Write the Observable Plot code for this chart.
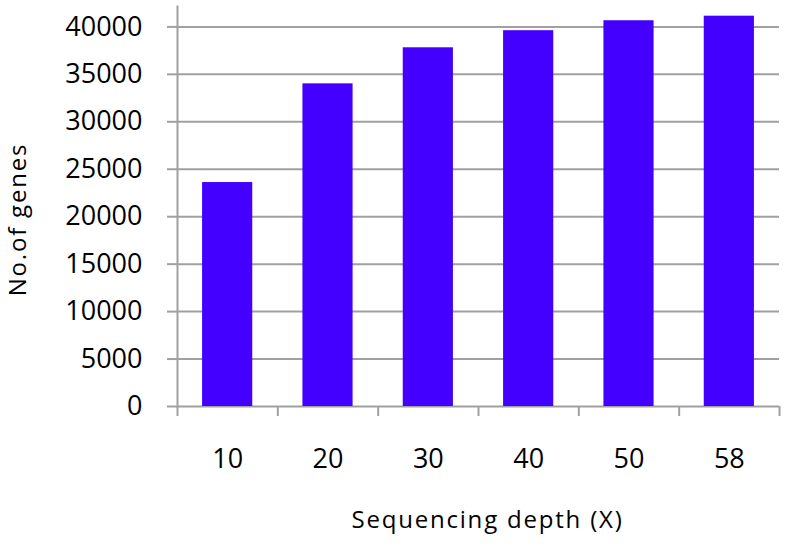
<!DOCTYPE html>
<html>
<head>
<meta charset="utf-8">
<script src="https://cdn.jsdelivr.net/npm/d3@7"></script>
<script src="https://cdn.jsdelivr.net/npm/@observablehq/plot@0.6"></script>
<style>
  html, body { margin: 0; padding: 0; background: #fff; }
  #chart svg { display: block; }
</style>
</head>
<body>
<div id="chart"></div>
<script>
const depths = ["10", "20", "30", "40", "50", "58"];
const genes = [23600, 34000, 37800, 39600, 40650, 41130];
const yTicks = [0, 5000, 10000, 15000, 20000, 25000, 30000, 35000, 40000];

const data = depths.map((d, i) => ({depth: d, idx: i, genes: genes[i]}));
const boundaries = d3.range(depths.length + 1);
const centers = depths.map((d, i) => i + 0.5);

const grid = "#a0a0a0";
const font = "'Open Sans', sans-serif";

const chart = Plot.plot({
  width: 787,
  height: 551,
  marginLeft: 177,
  marginRight: 8,
  marginTop: 6,
  marginBottom: 145,
  style: {fontFamily: font, fontSize: "26px", color: "#000", background: "#fff"},
  x: {type: "linear", domain: [0, depths.length]},
  y: {domain: [0, 42150]},
  marks: [
    Plot.ruleY(yTicks, {stroke: grid, strokeWidth: 2}),
    Plot.rectY(data, {x1: d => d.idx + 0.25, x2: d => d.idx + 0.75, y: "genes", fill: "#4300ff"}),
    Plot.frame({anchor: "left", stroke: grid, strokeWidth: 2}),
    Plot.axisY({ticks: yTicks, tickSize: 10, tickPadding: 25, stroke: grid, strokeWidth: 2,
      tickFormat: d => String(d), fontSize: 27, label: null}),
    Plot.axisX({ticks: boundaries, tickSize: 10, stroke: grid, strokeWidth: 2, tickFormat: () => "", label: null}),
    Plot.axisX({ticks: centers, tickSize: 0, tickPadding: 42, tickFormat: v => depths[Math.round(v - 0.5)], fontSize: 27, label: null}),
    Plot.text(["Sequencing depth (X)"], {frameAnchor: "bottom", dx: 9, dy: 121, fontSize: 24}),
    Plot.text(["No.of genes"], {frameAnchor: "left", textAnchor: "middle", dx: -159, dy: 13, rotate: -90, fontSize: 24})
  ]
});
chart.querySelectorAll("text").forEach(t => {
  const s = t.textContent;
  if (s === "Sequencing depth (X)" || s === "No.of genes") t.style.letterSpacing = "1.8px";
});
document.getElementById("chart").append(chart);
</script>
</body>
</html>
